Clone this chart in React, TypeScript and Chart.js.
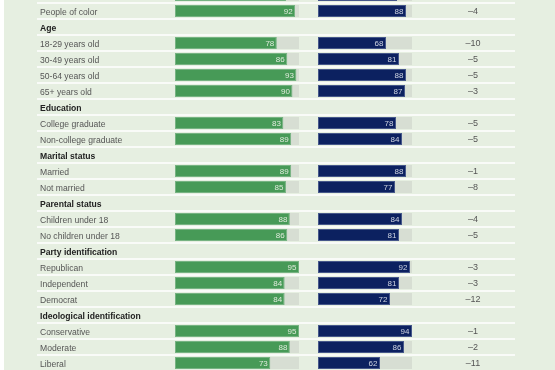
import React, { useEffect, useRef } from "react";
import { Chart, registerables } from "chart.js";

Chart.register(...registerables);

const rowLabels = [
  "White",
  "People of color",
  "Age",
  "18-29 years old",
  "30-49 years old",
  "50-64 years old",
  "65+ years old",
  "Education",
  "College graduate",
  "Non-college graduate",
  "Marital status",
  "Married",
  "Not married",
  "Parental status",
  "Children under 18",
  "No children under 18",
  "Party identification",
  "Republican",
  "Independent",
  "Democrat",
  "Ideological identification",
  "Conservative",
  "Moderate",
  "Liberal",
];

const headerLabels = [
  "Age",
  "Education",
  "Marital status",
  "Parental status",
  "Party identification",
  "Ideological identification",
];

const greenValues: (number | null)[] = [
  85, 92, null, 78, 86, 93, 90, null, 83, 89, null, 89, 85, null, 88, 86, null, 95, 84, 84, null, 95, 88, 73,
];

const blueValues: (number | null)[] = [
  79, 88, null, 68, 81, 88, 87, null, 78, 84, null, 88, 77, null, 84, 81, null, 92, 81, 72, null, 94, 86, 62,
];

const diffValues: (number | null)[] = [
  -6, -4, null, -10, -5, -5, -3, null, -5, -5, null, -1, -8, null, -4, -5, null, -3, -3, -12, null, -1, -2, -11,
];

const greenTrackMax = 95;
const blueTrackMax = 94;

const FONT = "'Liberation Sans', Arial, sans-serif";
const BG = "#e6efe1";
const GREEN = "#479a57";
const GREEN_EDGE = "#76b382";
const BLUE = "#0c2160";
const BLUE_EDGE = "#46578a";
const TRACK = "#d7ded3";

const CANVAS_W = 555;
const CANVAS_H = 384;
const CANVAS_TOP = -13;

const isHeader = (i: number) => headerLabels.includes(rowLabels[i]);

export default function App() {
  const ref = useRef<HTMLCanvasElement | null>(null);

  useEffect(() => {
    if (!ref.current) return;
    document.documentElement.style.overflow = "hidden";
    document.body.style.overflow = "hidden";

    const decorPlugin = {
      id: "decor",
      beforeDraw(chart: any) {
        const { ctx, width, height } = chart;
        const y = chart.scales.y;
        ctx.save();
        ctx.fillStyle = BG;
        ctx.fillRect(4, 0, width - 4, height);
        const step = y.getPixelForValue(1) - y.getPixelForValue(0);
        ctx.strokeStyle = "#ffffff";
        ctx.lineWidth = 1.5;
        for (let i = 0; i <= rowLabels.length; i++) {
          const py = y.getPixelForValue(i) - step / 2;
          ctx.beginPath();
          ctx.moveTo(37, py);
          ctx.lineTo(515, py);
          ctx.stroke();
        }
        ctx.restore();
      },
      afterDatasetsDraw(chart: any) {
        const { ctx } = chart;
        const y = chart.scales.y;
        ctx.save();
        ctx.font = `8px ${FONT}`;
        ctx.textAlign = "right";
        ctx.textBaseline = "middle";
        const drawVals = (dsIndex: number, color: string) => {
          const meta = chart.getDatasetMeta(dsIndex);
          const data = chart.data.datasets[dsIndex].data;
          meta.data.forEach((el: any, i: number) => {
            const v = data[i];
            if (v === null || v === undefined) return;
            ctx.fillStyle = color;
            ctx.fillText(String(v), el.x - 2.5, el.y + 0.5);
          });
        };
        drawVals(1, "#dfeadb");
        drawVals(3, "#cfd5e2");

        ctx.font = `9px ${FONT}`;
        ctx.textAlign = "center";
        ctx.fillStyle = "#555555";
        diffValues.forEach((d, i) => {
          if (d === null) return;
          const txt = d < 0 ? "\u2013" + Math.abs(d) : String(d);
          ctx.fillText(txt, 473, y.getPixelForValue(i) + 0.5);
        });
        ctx.restore();
      },
    };

    const chart = new Chart(ref.current, {
      type: "bar",
      data: {
        labels: rowLabels,
        datasets: [
          {
            label: "green track",
            data: rowLabels.map((_, i) => (isHeader(i) ? null : greenTrackMax)),
            backgroundColor: TRACK,
            xAxisID: "xg",
            grouped: false,
            order: 2,
          },
          {
            label: "green",
            data: greenValues,
            backgroundColor: GREEN,
            borderColor: GREEN_EDGE,
            borderWidth: 1,
            borderSkipped: false,
            xAxisID: "xg",
            grouped: false,
            order: 1,
          },
          {
            label: "blue track",
            data: rowLabels.map((_, i) => (isHeader(i) ? null : blueTrackMax)),
            backgroundColor: TRACK,
            xAxisID: "xb",
            grouped: false,
            order: 2,
          },
          {
            label: "blue",
            data: blueValues,
            backgroundColor: BLUE,
            borderColor: BLUE_EDGE,
            borderWidth: 1,
            borderSkipped: false,
            xAxisID: "xb",
            grouped: false,
            order: 1,
          },
        ] as any,
      },
      options: {
        indexAxis: "y",
        responsive: false,
        maintainAspectRatio: false,
        animation: false,
        events: [],
        layout: { padding: { left: 40, right: 143, top: 0, bottom: 0 } },
        categoryPercentage: 0.75,
        barPercentage: 1,
        plugins: { legend: { display: false }, tooltip: { enabled: false } },
        scales: {
          xg: {
            type: "linear",
            display: false,
            min: 0,
            max: (237 * greenTrackMax) / 124,
          },
          xb: {
            type: "linear",
            display: false,
            min: -143,
            max: 94,
          },
          y: {
            type: "category",
            position: "left",
            grid: { display: false },
            border: { display: false },
            afterFit: (scale: any) => {
              scale.width = 135;
              scale.paddingTop = 0;
              scale.paddingBottom = 0;
            },
            ticks: {
              autoSkip: false,
              crossAlign: "far",
              padding: 0,
              labelOffset: 1.5,
              color: (ctx: any) => (isHeader(ctx.index) ? "#222222" : "#555555"),
              font: (ctx: any) => ({
                family: FONT,
                size: 8.6,
                weight: isHeader(ctx.index) ? "bold" : "normal",
              }),
            },
          },
        },
      } as any,
      plugins: [decorPlugin],
    });

    return () => chart.destroy();
  }, []);

  return (
    <div style={{ position: "fixed", left: 0, top: CANVAS_TOP, width: CANVAS_W, height: CANVAS_H }}>
      <canvas
        ref={ref}
        width={CANVAS_W}
        height={CANVAS_H}
        style={{ width: CANVAS_W, height: CANVAS_H, display: "block" }}
      />
    </div>
  );
}
